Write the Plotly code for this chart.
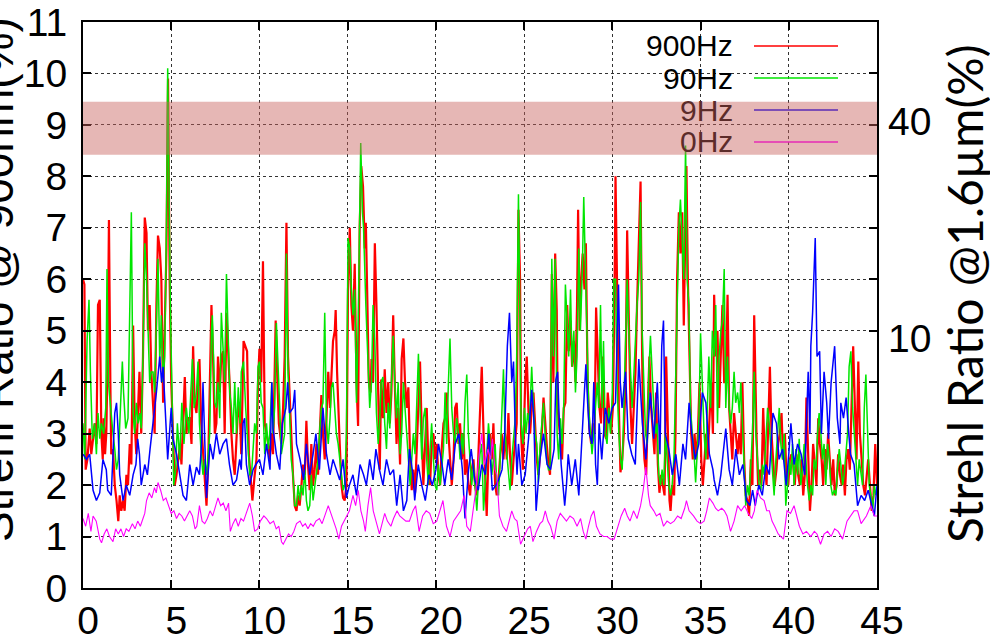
import plotly.graph_objects as go

# Strehl ratio time series (time in s, Strehl in %) for four loop rates
s900 = [(0.0,6.0),(0.08,5.9),(0.15,2.3),(0.25,2.5),(0.38,3.1),(0.47,2.6),(0.57,2.9),(0.66,3.2),(0.76,2.8),(0.85,5.5),(0.95,5.6),(1.04,3.0),(1.12,2.5),(1.17,3.3),(1.25,2.6),(1.32,3.0),(1.40,4.5),(1.47,7.15),(1.55,4.0),(1.6,2.6),(1.7,2.7),(1.8,2.0),(1.9,1.7),(2.0,1.3),(2.08,1.8),(2.17,1.5),(2.27,1.7),(2.36,1.5),(2.46,2.2),(2.55,2.0),(2.65,2.8),(2.74,2.4),(2.84,5.1),(2.93,3.2),(3.02,2.6),(3.1,3.5),(3.2,4.2),(3.3,3.0),(3.4,4.5),(3.5,7.2),(3.6,6.9),(3.68,5.0),(3.78,5.5),(3.87,4.2),(3.97,3.6),(4.06,3.0),(4.16,5.5),(4.25,6.85),(4.35,6.6),(4.44,6.0),(4.54,3.6),(4.63,5.0),(4.73,6.6),(4.82,9.9),(4.91,6.0),(5.0,4.0),(5.1,3.0),(5.2,2.0),(5.3,2.2),(5.4,2.5),(5.5,2.8),(5.58,2.4),(5.67,3.4),(5.77,4.1),(5.86,3.0),(5.95,3.3),(6.05,3.3),(6.15,2.8),(6.24,4.7),(6.33,3.6),(6.43,3.4),(6.52,4.0),(6.6,4.45),(6.7,3.2),(6.8,2.6),(6.9,2.0),(7.0,1.6),(7.1,2.5),(7.18,3.6),(7.28,5.5),(7.37,4.5),(7.47,3.0),(7.56,3.2),(7.65,4.5),(7.75,3.8),(7.84,4.5),(7.94,4.6),(8.03,3.0),(8.13,5.35),(8.22,4.7),(8.32,3.9),(8.41,3.0),(8.5,2.5),(8.6,2.2),(8.7,2.8),(8.8,3.6),(8.9,3.3),
        (8.97,2.6),(9.1,4.8),(9.22,4.7),(9.3,4.6),(9.4,2.6),(9.5,2.2),(9.6,1.7),(9.73,2.2),(9.83,2.5),(9.92,4.0),(10.0,4.65),(10.1,4.0),(10.2,6.35),(10.3,3.2),(10.4,3.0),(10.5,2.8),(10.58,2.5),(10.7,3.0),(10.77,2.6),(10.92,5.2),(11.02,4.0),(11.1,3.2),(11.24,2.8),(11.34,3.5),(11.43,4.5),(11.53,7.1),(11.62,4.5),(11.7,3.8),(11.8,3.0),(11.9,2.2),(12.0,1.6),(12.1,1.5),(12.19,1.8),(12.28,1.6),(12.38,2.0),(12.47,2.4),(12.57,2.2),(12.66,3.25),(12.75,2.4),(12.85,1.9),(12.94,2.8),(13.04,2.0),(13.13,2.3),(13.23,2.8),(13.32,2.2),(13.42,3.0),(13.51,3.75),(13.6,3.0),(13.7,2.5),(13.8,3.3),(13.9,4.2),(14.0,3.5),(14.08,4.3),(14.17,4.8),(14.27,5.0),(14.32,5.4),(14.4,4.2),(14.46,3.5),(14.55,2.8),(14.65,2.0),(14.74,1.75),(14.83,1.7),(14.93,2.0),(15.02,5.8),(15.12,7.0),(15.21,5.5),(15.3,5.0),(15.4,6.3),(15.5,4.0),(15.59,3.15),(15.68,7.0),(15.77,8.2),(15.87,7.8),(15.97,6.6),(16.03,7.1),(16.12,5.5),(16.2,4.0),(16.3,3.8),(16.35,4.45),(16.44,4.0),(16.54,6.7),(16.63,5.5),(16.73,3.5),(16.82,2.3),(16.9,4.05),(17.0,3.3),(17.1,4.25),(17.2,3.4),(17.3,4.0),(17.39,3.2),(17.48,3.8),(17.58,5.3),(17.67,4.0),(17.77,2.8),(17.86,3.5),
        (17.97,2.4),(18.06,4.45),(18.16,4.85),(18.25,4.0),(18.35,3.5),(18.44,3.9),(18.54,2.5),(18.63,1.9),(18.72,2.3),(18.82,1.85),(18.91,2.8),(19.01,3.7),(19.1,4.4),(19.2,3.0),(19.29,2.0),(19.39,2.8),(19.48,3.5),(19.57,2.5),(19.67,2.0),(19.76,2.8),(19.86,3.0),(19.95,2.5),(20.05,2.8),(20.14,2.2),(20.24,2.0),(20.33,2.7),(20.43,3.2),(20.52,3.3),(20.61,3.8),(20.71,3.0),(20.8,2.5),(20.9,2.0),(21.0,2.5),(21.09,3.5),(21.18,3.6),(21.28,2.8),(21.37,3.2),(21.47,2.5),(21.56,3.0),(21.65,2.2),(21.75,2.5),(21.84,2.0),(21.94,1.8),(22.03,2.3),(22.13,2.5),(22.22,2.0),(22.32,1.8),(22.4,2.5),(22.5,3.5),(22.6,4.3),(22.7,3.0),(22.79,2.0),(22.88,1.4),(22.98,2.6),(23.07,3.0),(23.17,2.5),(23.26,3.2),(23.36,2.0),(23.45,1.8),(23.55,2.1),(23.64,2.5),(23.73,3.0),(23.83,2.5),(23.92,3.0),(24.02,2.5),(24.11,3.4),(24.2,2.6),(24.3,2.0),(24.4,2.5),(24.5,3.0),(24.58,3.2),(24.68,7.35),(24.77,6.0),(24.83,3.0),(24.93,2.3),(25.06,4.0),(25.15,4.5),(25.25,3.4),(25.34,3.0),(25.43,3.5),(25.53,3.8),(25.62,3.2),(25.72,2.5),(25.81,2.2),(25.91,2.6),(26.0,3.0),(26.1,3.7),(26.19,3.2),(26.28,2.8),(26.38,2.4),(26.47,2.2),(26.57,6.1),(26.66,4.0),(26.76,6.5),
        (26.85,5.4),(26.9,3.5),(27.0,3.15),(27.15,2.5),(27.25,3.5),(27.34,3.6),(27.44,5.5),(27.53,4.6),(27.63,5.2),(27.72,4.3),(27.82,4.8),(27.91,4.0),(28.0,5.5),(28.06,7.35),(28.15,5.0),(28.23,6.0),(28.32,6.5),(28.42,5.8),(28.5,6.7),(28.6,4.0),(28.7,3.1),(28.8,2.8),(28.9,3.2),(28.99,3.0),(29.08,5.45),(29.18,4.5),(29.27,3.5),(29.36,3.2),(29.46,4.5),(29.55,3.0),(29.65,2.9),(29.74,3.8),(29.84,3.3),(29.93,3.0),(30.03,3.5),(30.12,5.5),(30.18,8.0),(30.27,5.5),(30.37,3.5),(30.46,2.25),(30.56,2.5),(30.65,3.0),(30.75,4.0),(30.84,6.95),(30.93,5.0),(31.03,3.5),(31.12,2.8),(31.2,3.5),(31.31,4.2),(31.4,5.5),(31.5,7.0),(31.6,7.9),(31.69,4.5),(31.75,3.0),(31.82,2.5),(31.92,2.2),(32.01,3.5),(32.1,4.5),(32.2,3.5),(32.3,3.0),(32.39,2.6),(32.48,3.8),(32.58,2.4),(32.67,1.85),(32.77,2.2),(32.86,2.0),(32.96,1.8),(33.05,4.5),(33.15,2.8),(33.24,1.7),(33.3,1.5),(33.39,2.0),(33.5,1.8),(33.58,3.0),(33.67,6.0),(33.77,7.3),(33.86,6.5),(33.96,7.3),(34.05,5.1),(34.15,7.5),(34.2,8.2),(34.28,6.0),(34.37,4.5),(34.47,3.0),(34.56,2.5),(34.66,3.0),(34.75,2.5),(34.85,3.0),(34.94,4.0),(35.04,2.5),(35.13,2.0),(35.22,2.5),(35.32,3.0),(35.4,2.5),(35.5,3.2),(35.6,4.0),(35.7,3.0),
        (35.77,5.7),(35.86,4.5),(35.96,5.0),(36.05,3.5),(36.15,4.5),(36.24,5.5),(36.34,4.0),(36.43,4.0),(36.53,5.7),(36.62,3.5),(36.71,3.0),(36.8,2.5),(36.9,3.4),(36.99,3.0),(37.1,2.6),(37.2,3.0),(37.28,2.6),(37.37,4.0),(37.47,2.5),(37.56,1.8),(37.66,1.7),(37.75,1.4),(37.85,2.5),(37.94,2.0),(38.04,5.3),(38.17,3.0),(38.26,2.0),(38.36,2.3),(38.45,2.0),(38.55,3.5),(38.64,2.5),(38.74,2.0),(38.83,3.0),(38.93,4.3),(39.02,3.0),(39.11,2.5),(39.2,2.0),(39.3,2.3),(39.4,2.8),(39.49,3.0),(39.59,3.4),(39.68,2.5),(39.78,3.0),(39.87,2.2),(39.97,2.0),(40.06,2.5),(40.15,2.6),(40.25,2.4),(40.34,2.0),(40.44,2.6),(40.53,2.2),(40.63,2.0),(40.72,2.5),(40.82,1.8),(40.91,2.2),(41.0,3.7),(41.1,2.5),(41.2,1.5),(41.29,2.0),(41.38,2.8),(41.48,2.4),(41.57,2.0),(41.67,3.3),(41.76,2.8),(41.86,2.5),(41.95,2.0),(42.05,2.7),(42.14,2.3),(42.23,3.0),(42.33,2.5),(42.42,2.0),(42.52,2.5),(42.61,1.8),(42.71,2.0),(42.8,2.6),(42.9,2.2),(43.0,2.0),(43.08,2.4),(43.18,1.8),(43.27,2.5),(43.37,2.7),(43.46,2.3),(43.56,3.5),(43.65,4.7),(43.75,3.5),(43.84,2.5),(43.94,4.4),(44.03,3.0),(44.13,2.5),(44.22,2.0),(44.32,1.8),(44.4,2.2),(44.5,2.5),(44.6,2.0),(44.7,1.5),(44.8,1.8),(44.9,2.8),(45.0,2.0)]

s90 = [(0.0,3.2),(0.1,2.5),(0.23,4.8),(0.34,5.6),(0.42,4.2),(0.53,2.9),(0.66,3.2),(0.76,2.6),(0.85,3.4),(0.95,2.9),(1.04,3.2),(1.17,3.0),(1.29,3.5),(1.36,6.2),(1.44,4.0),(1.55,3.5),(1.7,3.0),(1.8,2.7),(1.9,2.3),(2.0,2.5),(2.12,3.7),(2.23,4.4),(2.3,3.8),(2.42,3.1),(2.55,3.3),(2.65,6.0),(2.74,7.3),(2.84,3.4),(2.93,3.0),(3.02,3.6),(3.12,3.2),(3.22,3.4),(3.3,3.1),(3.4,4.5),(3.5,6.7),(3.6,6.0),(3.68,5.0),(3.78,4.0),(3.87,4.2),(3.97,4.2),(4.06,3.8),(4.16,5.0),(4.25,6.4),(4.35,4.4),(4.44,5.3),(4.54,4.0),(4.63,4.5),(4.73,7.0),(4.8,10.1),(4.95,5.5),(5.07,3.5),(5.14,2.0),(5.25,2.3),(5.35,3.2),(5.48,2.5),(5.6,3.6),(5.72,2.8),(5.86,3.5),(6.0,3.0),(6.09,3.8),(6.2,4.45),(6.3,3.5),(6.43,3.8),(6.52,4.4),(6.6,3.2),(6.7,2.6),(6.8,2.2),(6.9,2.5),(7.0,2.2),(7.1,2.6),(7.18,3.0),(7.28,5.0),(7.33,5.3),(7.47,3.6),(7.56,3.5),(7.65,4.0),(7.75,3.3),(7.84,5.35),(7.94,4.5),(8.03,4.0),(8.13,6.1),(8.22,5.0),(8.32,3.8),(8.41,3.5),(8.5,3.0),(8.6,4.0),(8.7,3.0),(8.8,3.9),(8.9,3.2),
       (8.97,4.2),(9.1,4.4),(9.22,3.5),(9.35,2.6),(9.45,2.2),(9.55,2.2),(9.64,2.7),(9.73,3.2),(9.83,3.0),(9.92,4.3),(10.0,4.4),(10.1,3.6),(10.2,3.5),(10.3,2.6),(10.4,3.2),(10.5,2.7),(10.58,3.0),(10.7,4.0),(10.77,3.0),(10.86,3.5),(10.96,5.15),(11.05,4.5),(11.15,3.5),(11.24,2.6),(11.34,2.8),(11.43,3.0),(11.53,6.5),(11.62,4.2),(11.7,3.5),(11.8,2.5),(11.9,2.2),(12.0,1.6),(12.1,1.6),(12.19,2.0),(12.28,1.7),(12.38,2.0),(12.47,1.8),(12.57,2.3),(12.66,1.7),(12.75,1.5),(12.85,1.6),(12.94,2.2),(13.04,1.7),(13.13,2.0),(13.23,2.2),(13.32,2.5),(13.42,3.1),(13.51,3.5),(13.6,3.6),(13.7,5.35),(13.8,3.2),(13.9,2.8),(14.0,3.3),(14.08,3.9),(14.17,4.0),(14.27,3.5),(14.36,3.0),(14.46,2.8),(14.55,2.5),(14.65,2.3),(14.74,1.9),(14.83,2.0),(14.93,3.0),(15.02,6.8),(15.12,6.6),(15.21,5.8),(15.3,5.3),(15.4,5.8),(15.5,3.6),(15.59,5.0),(15.68,8.0),(15.74,8.65),(15.84,7.3),(15.9,7.0),(16.03,5.5),(16.12,4.5),(16.25,3.5),(16.35,4.0),(16.44,5.5),(16.54,4.8),(16.63,3.4),(16.73,2.8),(16.82,3.3),(16.9,4.0),(17.0,4.1),(17.1,3.2),(17.2,2.7),(17.3,3.6),(17.39,3.1),(17.48,4.0),(17.58,4.9),(17.67,4.0),(17.77,3.3),(17.86,4.0),
       (17.97,2.6),(18.06,3.0),(18.16,4.0),(18.25,3.5),(18.35,3.0),(18.44,2.5),(18.54,2.0),(18.63,2.5),(18.72,3.0),(18.82,2.6),(18.91,3.5),(19.01,4.55),(19.1,3.5),(19.2,2.5),(19.29,3.3),(19.39,3.5),(19.48,2.5),(19.57,2.0),(19.67,2.7),(19.76,3.2),(19.86,2.5),(19.95,2.0),(20.05,1.9),(20.14,2.4),(20.24,2.0),(20.33,2.3),(20.43,2.7),(20.52,3.8),(20.61,2.8),(20.71,4.0),(20.8,4.85),(20.9,3.5),(21.0,3.0),(21.09,2.8),(21.18,3.3),(21.28,3.0),(21.37,2.5),(21.47,3.0),(21.56,2.6),(21.65,3.6),(21.75,4.15),(21.84,3.0),(21.94,2.5),(22.03,2.0),(22.13,2.4),(22.22,2.0),(22.32,1.5),(22.4,2.0),(22.5,2.6),(22.6,2.8),(22.7,1.5),(22.79,2.0),(22.88,2.6),(22.98,3.2),(23.07,2.8),(23.17,2.2),(23.26,2.5),(23.36,2.8),(23.45,2.0),(23.55,1.8),(23.64,2.5),(23.73,3.5),(23.83,4.25),(23.92,3.0),(24.02,2.6),(24.11,2.1),(24.2,1.9),(24.3,2.5),(24.4,3.0),(24.5,3.3),(24.58,4.5),(24.68,7.65),(24.77,5.0),(24.83,3.2),(24.93,2.8),(25.02,3.5),(25.11,3.0),(25.2,3.4),(25.3,3.2),(25.43,4.3),(25.53,3.5),(25.62,3.0),(25.72,2.8),(25.81,2.05),(25.91,2.8),(26.0,3.2),(26.1,3.6),(26.19,3.0),(26.28,2.5),(26.38,2.3),(26.47,2.3),(26.57,6.4),(26.66,4.5),(26.76,6.4),
       (26.87,3.0),(26.96,2.5),(27.06,3.3),(27.15,2.8),(27.25,3.6),(27.34,5.9),(27.44,5.0),(27.53,4.5),(27.63,5.8),(27.72,4.3),(27.82,5.0),(27.91,3.8),(28.0,4.5),(28.1,6.6),(28.19,5.0),(28.3,6.2),(28.38,7.6),(28.48,6.0),(28.57,5.0),(28.66,3.5),(28.76,3.0),(28.85,2.6),(28.95,3.0),(29.04,3.5),(29.14,4.0),(29.23,3.5),(29.33,5.5),(29.42,3.5),(29.5,4.8),(29.6,3.0),(29.7,2.8),(29.8,3.5),(29.9,3.0),(30.0,3.8),(30.08,6.0),(30.18,6.0),(30.27,4.0),(30.37,3.0),(30.46,2.5),(30.56,2.3),(30.65,3.5),(30.75,4.5),(30.84,6.0),(30.93,5.0),(31.03,4.0),(31.12,3.5),(31.2,4.0),(31.31,5.0),(31.4,5.5),(31.5,6.0),(31.6,7.5),(31.69,5.0),(31.8,4.0),(31.88,3.0),(31.98,2.8),(32.07,4.2),(32.16,4.9),(32.26,4.0),(32.35,3.5),(32.45,3.0),(32.54,3.2),(32.63,2.2),(32.73,2.0),(32.82,2.3),(32.92,2.0),(33.01,3.0),(33.1,2.5),(33.2,2.0),(33.3,1.8),(33.39,2.0),(33.5,2.6),(33.58,4.0),(33.67,5.0),(33.77,7.0),(33.86,7.55),(33.96,6.5),(34.05,6.0),(34.15,8.6),(34.24,6.0),(34.34,5.5),(34.43,3.5),(34.53,3.0),(34.62,2.7),(34.72,2.05),(34.81,2.8),(34.9,3.2),(35.0,4.95),(35.1,4.0),(35.2,3.0),(35.3,2.5),(35.38,3.5),(35.47,4.5),(35.57,3.5),
       (35.67,5.0),(35.77,4.5),(35.86,5.5),(35.96,3.2),(36.05,4.5),(36.15,5.0),(36.24,5.2),(36.34,6.2),(36.43,3.5),(36.53,4.5),(36.62,3.5),(36.71,3.2),(36.8,3.5),(36.9,4.2),(36.99,3.6),(37.1,3.8),(37.2,3.4),(37.28,4.0),(37.37,3.3),(37.47,2.2),(37.56,1.6),(37.66,2.0),(37.75,1.8),(37.85,2.4),(37.94,3.0),(38.04,4.2),(38.13,3.0),(38.23,2.5),(38.32,2.0),(38.42,1.9),(38.51,2.4),(38.6,2.2),(38.7,2.8),(38.8,3.5),(38.89,3.2),(38.98,2.7),(39.08,2.2),(39.17,1.8),(39.27,2.5),(39.36,3.0),(39.46,3.5),(39.55,2.8),(39.64,2.5),(39.74,3.0),(39.83,1.6),(39.93,2.0),(40.02,2.5),(40.12,2.2),(40.21,2.8),(40.3,2.0),(40.4,2.7),(40.5,2.2),(40.59,2.9),(40.68,2.0),(40.78,2.3),(40.87,2.8),(40.97,2.5),(41.06,2.0),(41.16,1.7),(41.25,2.0),(41.35,1.8),(41.44,2.5),(41.54,2.3),(41.63,3.0),(41.72,3.4),(41.82,3.0),(41.91,2.5),(42.0,2.8),(42.1,2.0),(42.2,2.8),(42.3,2.5),(42.38,2.0),(42.48,1.8),(42.58,1.9),(42.67,1.8),(42.76,2.3),(42.86,2.7),(42.95,2.4),(43.05,2.0),(43.14,2.2),(43.24,2.6),(43.33,3.0),(43.42,4.3),(43.52,4.6),(43.62,3.5),(43.71,3.0),(43.8,2.5),(43.9,2.0),(43.99,2.5),(44.09,2.2),(44.18,2.0),(44.28,3.5),(44.37,4.15),(44.47,3.0),(44.56,2.0),(44.65,1.8),(44.75,1.5),(44.85,2.0),(44.94,1.8)]

s9 = [(0.0,2.6),(0.2,2.5),(0.38,2.6),(0.57,1.9),(0.76,1.7),(0.95,1.85),(1.13,2.5),(1.32,2.3),(1.4,1.9),(1.6,1.8),(1.8,3.4),(1.9,3.6),(2.0,3.0),(2.08,2.2),(2.27,1.7),(2.45,2.0),(2.65,1.8),(2.84,2.2),(3.0,2.4),(3.1,2.9),(3.2,2.6),(3.3,2.0),(3.5,2.4),(3.65,2.2),(3.8,2.7),(4.0,3.3),(4.16,3.8),(4.35,4.5),(4.45,4.0),(4.54,4.3),(4.63,3.6),(4.8,2.5),(5.0,3.5),(5.1,2.9),(5.3,2.6),(5.5,2.2),(5.67,1.8),(5.86,1.7),(6.05,2.4),(6.24,2.0),(6.43,2.35),(6.6,2.2),(6.72,2.8),(6.8,4.0),(6.9,2.6),(7.0,1.75),(7.2,2.8),(7.37,2.5),(7.56,3.0),(7.75,2.6),(7.94,2.8),(8.13,2.9),(8.3,2.4),(8.5,2.0),(8.7,2.1),(8.88,2.5),(8.97,2.3),(9.07,3.2),(9.16,3.3),(9.26,2.4),(9.45,2.0),(9.64,2.3),(9.8,2.4),(10.0,2.5),(10.2,2.2),(10.4,2.8),(10.6,2.3),(10.7,4.0),(10.77,3.1),(10.96,2.6),(11.15,2.3),(11.3,3.2),(11.5,3.5),(11.6,4.0),(11.7,3.4),(11.9,3.5),(12.0,3.85),(12.1,2.8),(12.3,2.5),(12.5,2.1),(12.66,2.8),(12.85,2.2),(13.04,2.6),(13.2,3.0),(13.4,2.3),(13.6,3.5),(13.8,2.6),(14.0,2.2),(14.17,2.5),(14.36,2.3),(14.55,2.1),(14.74,2.5),(14.93,1.75),(15.1,2.0),(15.3,2.2),(15.5,1.8),(15.7,2.4),(15.9,2.2),(16.06,2.0),(16.25,2.5),(16.44,2.1),(16.6,2.7),(16.8,2.3),(17.0,2.0),(17.2,2.5),(17.4,2.2),(17.6,2.3),
      (17.78,1.6),(17.97,2.2),(18.16,1.5),(18.35,1.7),(18.5,2.7),(18.7,2.2),(18.8,1.7),(19.0,2.4),(19.2,2.0),(19.4,1.7),(19.6,2.2),(19.8,2.0),(20.0,2.3),(20.15,2.8),(20.35,2.4),(20.5,2.0),(20.7,2.5),(20.9,2.1),(21.1,2.8),(21.3,3.0),(21.5,2.3),(21.65,1.35),(21.85,2.3),(22.0,2.7),(22.2,2.1),(22.4,1.9),(22.6,2.4),(22.8,2.2),(23.0,3.0),(23.2,1.9),(23.4,2.0),(23.55,2.1),(23.75,2.3),(23.9,3.0),(24.05,4.7),(24.17,5.35),(24.3,4.0),(24.4,4.4),(24.5,3.0),(24.6,2.2),(24.68,2.8),(24.87,2.0),(25.06,2.2),(25.25,2.9),(25.43,3.85),(25.55,3.3),(25.68,1.5),(25.9,2.5),(26.1,3.0),(26.3,2.4),(26.5,2.3),(26.7,2.7),(26.8,4.05),(26.9,4.2),(27.0,3.2),(27.1,2.4),(27.3,1.6),(27.4,2.0),(27.5,2.6),(27.7,2.0),(27.9,2.5),(28.1,1.8),(28.2,2.4),(28.3,3.1),(28.5,4.35),(28.6,3.6),(28.7,3.0),(28.85,2.8),(28.95,4.0),(29.05,2.4),(29.15,2.0),(29.25,3.2),(29.4,2.5),(29.6,3.5),(29.8,3.2),(30.0,3.5),(30.18,3.6),(30.35,5.9),(30.45,4.0),(30.55,3.5),(30.75,4.2),(30.9,2.9),(31.1,2.6),(31.3,2.4),(31.5,4.45),(31.7,3.2),(31.9,2.5),(32.0,3.0),(32.15,3.8),(32.35,2.9),(32.55,4.0),(32.7,2.6),(32.8,4.7),(32.9,5.2),(33.0,3.0),(33.2,2.7),(33.4,2.2),(33.6,2.6),(33.8,2.0),(34.0,2.8),(34.15,2.5),(34.35,3.6),(34.5,3.0),(34.7,2.5),(34.9,2.8),(35.1,3.8),(35.3,3.6),(35.5,2.6),(35.7,2.3),
      (35.77,2.1),(35.96,1.8),(36.15,2.2),(36.34,2.8),(36.43,3.1),(36.62,2.3),(36.8,2.0),(37.0,2.7),(37.2,2.2),(37.4,2.4),(37.6,1.7),(37.8,1.6),(37.95,1.9),(38.1,1.6),(38.3,2.0),(38.5,1.8),(38.7,2.4),(38.9,2.2),(39.1,3.4),(39.3,3.2),(39.45,2.5),(39.65,2.7),(39.85,2.0),(40.0,2.6),(40.12,3.2),(40.3,2.4),(40.5,2.8),(40.7,2.6),(40.9,2.2),(41.1,4.2),(41.2,3.0),(41.25,4.7),(41.35,5.35),(41.5,6.8),(41.6,4.5),(41.75,4.6),(41.85,3.0),(42.0,4.2),(42.15,3.6),(42.25,2.9),(42.4,4.0),(42.6,4.7),(42.75,3.3),(42.9,2.8),(42.95,3.6),(43.1,3.3),(43.25,3.7),(43.4,3.0),(43.5,2.6),(43.7,2.4),(43.9,1.6),(44.1,1.8),(44.3,1.7),(44.5,1.9),(44.65,1.7),(44.85,1.4),(45.0,2.0)]

s0 = [(0.0,1.35),(0.15,1.2),(0.3,1.45),(0.45,1.1),(0.57,1.4),(0.75,1.3),(0.95,0.95),(1.05,0.88),(1.2,1.05),(1.35,1.15),(1.5,1.0),(1.7,0.9),(1.85,1.15),(2.0,1.05),(2.15,1.15),(2.3,1.0),(2.45,1.15),(2.6,1.1),(2.8,1.25),(2.95,1.15),(3.1,1.3),(3.25,1.2),(3.4,1.35),(3.5,1.45),(3.6,1.7),(3.75,1.85),(3.9,1.75),(4.05,1.95),(4.15,1.85),(4.25,2.05),(4.4,1.9),(4.55,1.7),(4.7,1.75),(4.85,1.6),(5.0,1.45),(5.15,1.5),(5.3,1.35),(5.45,1.45),(5.6,1.4),(5.75,1.3),(5.9,1.4),(6.05,1.5),(6.2,1.4),(6.35,1.15),(6.45,1.2),(6.6,1.6),(6.75,1.3),(6.9,1.25),(7.05,1.35),(7.2,1.5),(7.35,1.4),(7.5,1.6),(7.65,1.75),(7.8,1.6),(7.95,1.65),(8.1,1.5),(8.25,1.65),(8.35,1.1),(8.5,1.25),(8.65,1.35),(8.8,1.2),(8.95,1.35),(9.1,1.3),(9.25,1.45),(9.45,1.65),(9.6,1.4),(9.73,1.1),(9.9,1.15),(10.05,1.3),(10.25,1.4),(10.4,1.35),(10.6,1.25),(10.8,1.3),(10.95,1.15),(11.1,1.2),(11.25,0.9),(11.35,0.85),(11.5,0.95),(11.65,1.05),(11.8,1.0),(11.95,1.1),(12.1,1.25),(12.3,1.3),(12.45,1.2),(12.6,1.25),(12.75,1.15),(12.9,1.25),(13.05,1.2),(13.2,1.3),(13.4,1.35),(13.55,1.25),(13.75,1.45),(13.9,1.6),(14.05,1.45),(14.2,1.3),(14.35,1.15),(14.5,0.95),(14.65,1.2),(14.8,1.3),(14.95,1.4),(15.1,1.5),(15.3,1.8),(15.45,1.6),(15.6,1.9),(15.75,1.5),(15.9,1.3),(16.0,1.1),(16.15,1.6),(16.3,1.95),(16.45,1.5),(16.6,1.3),(16.8,1.05),(16.95,1.25),(17.1,1.45),(17.25,1.3),(17.45,1.2),(17.6,1.35),(17.8,1.5),(17.95,1.4),
      (18.1,1.35),(18.3,1.3),(18.5,1.3),(18.7,1.5),(18.85,1.6),(19.05,1.1),(19.25,1.4),(19.45,1.5),(19.65,1.45),(19.85,1.25),(20.05,1.3),(20.25,1.55),(20.4,1.7),(20.6,1.2),(20.8,1.0),(21.0,1.3),(21.2,1.4),(21.4,1.5),(21.6,1.8),(21.75,1.2),(21.95,1.1),(22.1,1.5),(22.3,2.0),(22.45,2.6),(22.6,3.0),(22.75,2.4),(22.95,2.7),(23.1,2.5),(23.2,2.9),(23.35,2.3),(23.45,2.2),(23.6,1.4),(23.8,1.2),(24.0,1.1),(24.15,1.3),(24.3,1.5),(24.45,1.35),(24.6,1.3),(24.8,0.85),(25.0,1.0),(25.2,1.15),(25.35,1.2),(25.5,0.9),(25.7,1.1),(25.9,1.25),(26.05,1.3),(26.2,1.5),(26.35,1.3),(26.5,1.2),(26.7,0.95),(26.87,1.3),(27.05,1.45),(27.25,1.35),(27.4,1.3),(27.6,1.4),(27.8,1.35),(28.0,1.2),(28.2,1.35),(28.35,1.1),(28.5,0.95),(28.65,1.2),(28.8,1.4),(28.95,1.5),(29.1,1.2),(29.3,1.05),(29.5,1.0),(29.7,1.0),(29.9,0.95),(30.1,0.95),(30.3,1.2),(30.5,1.4),(30.7,1.55),(30.85,1.4),(31.0,1.3),(31.2,1.5),(31.4,1.35),(31.6,1.6),(31.75,1.9),(31.9,2.35),(32.05,1.8),(32.15,1.6),(32.35,1.5),(32.5,1.4),(32.7,1.45),(32.9,1.2),(33.1,1.3),(33.3,1.25),(33.5,1.3),(33.7,1.4),(33.9,1.35),(34.1,1.55),(34.2,1.7),(34.35,1.5),(34.6,1.4),(34.8,1.3),(35.0,1.25),(35.2,1.3),(35.35,1.5),(35.5,1.75),(35.7,1.65),(35.85,1.55),
      (36.0,1.5),(36.2,1.55),(36.35,1.5),(36.5,1.4),(36.7,1.1),(36.9,1.3),(37.1,1.6),(37.3,1.5),(37.5,1.6),(37.7,1.45),(37.9,1.35),(38.05,1.5),(38.2,1.9),(38.4,1.75),(38.6,1.7),(38.75,1.5),(38.9,1.5),(39.05,1.3),(39.2,1.2),(39.4,1.05),(39.55,1.0),(39.7,0.95),(39.9,1.5),(40.1,1.45),(40.3,1.6),(40.45,1.4),(40.6,1.2),(40.8,1.05),(41.0,1.1),(41.25,1.0),(41.45,1.1),(41.6,1.05),(41.8,0.85),(42.0,1.05),(42.2,1.1),(42.4,1.0),(42.6,1.15),(42.8,1.1),(43.05,0.95),(43.3,1.3),(43.5,1.4),(43.7,1.5),(43.9,1.5),(44.1,1.25),(44.4,1.4),(44.65,1.6),(44.85,1.4),(45.0,1.4)]

series_names = ["900Hz", "90Hz", "9Hz", "0Hz"]
series_data = [s900, s90, s9, s0]
series_colors = ["#ff0000", "#00e600", "#0000ff", "#ff00ff"]
series_widths = [2.2, 1.5, 1.5, 1.1]

x_ticks = [0, 5, 10, 15, 20, 25, 30, 35, 40, 45]
y_ticks = list(range(0, 12))
# right-hand scale: Strehl at 1.6 um corresponding to left-axis positions
y2_tick_pos = [9.06, 4.86]
y2_tick_text = ["40", "10"]
band_range = (8.42, 9.45)

FONT = "Liberation Sans, Arial, sans-serif"

# plot-area geometry in pixels
L, R, T, B = 83, 877, 22, 588
PW, PH = R - L, B - T


def px(xp):
    return (xp - L) / PW


def py(yp):
    return (B - yp) / PH


fig = go.Figure()
for name, data, color, w in zip(series_names, series_data, series_colors, series_widths):
    fig.add_trace(go.Scatter(
        x=[p[0] for p in data], y=[p[1] for p in data],
        mode="lines", name=name, showlegend=False,
        line=dict(color=color, width=w),
    ))
# empty trace so the secondary axis is rendered
fig.add_trace(go.Scatter(x=[], y=[], yaxis="y2", showlegend=False))

axis_common = dict(
    showline=True, linecolor="black", linewidth=2, mirror="ticks",
    ticks="inside", ticklen=8, tickwidth=1.5, tickcolor="black",
    showgrid=True, gridcolor="#333333", gridwidth=1, griddash="dot",
    zeroline=False, automargin=False,
    tickfont=dict(family=FONT, size=39, color="black"),
)

fig.update_layout(
    width=990, height=634,
    margin=dict(l=L, r=990 - R, t=T, b=634 - B),
    paper_bgcolor="white", plot_bgcolor="white",
    xaxis=dict(range=[0, 45], tickvals=x_ticks, ticklabelstandoff=-3,
               ticklabelshift=5, **axis_common),
    yaxis=dict(range=[0, 11], tickvals=y_ticks, ticklabelstandoff=6, **axis_common),
    yaxis2=dict(range=[0, 11], overlaying="y", side="right", tickvals=y2_tick_pos,
                ticktext=y2_tick_text, showgrid=False, showline=False, ticks="",
                zeroline=False, automargin=False, ticklabelstandoff=10,
                tickfont=dict(family=FONT, size=39, color="black")),
)

shapes = []
# opaque key box (above grid, below data)
shapes.append(dict(type="rect", xref="paper", yref="paper", layer="between",
                   x0=px(638), x1=px(858), y0=py(157), y1=py(30),
                   fillcolor="white", line=dict(width=0)))
# key samples
key_y = [46, 78, 110, 142]
key_text_col = ["black", "black", "rgb(92,44,42)", "rgb(92,44,42)"]
annotations = []
for name, color, ky, tc in zip(series_names, series_colors, key_y, key_text_col):
    shapes.append(dict(type="line", xref="paper", yref="paper", layer="above",
                       x0=px(754), x1=px(838), y0=py(ky), y1=py(ky),
                       line=dict(color=color, width=1.5)))
    annotations.append(dict(xref="paper", yref="paper", x=px(735), y=py(ky),
                            text=name, showarrow=False, xanchor="right", yanchor="middle",
                            font=dict(family=FONT, size=30, color=tc)))
# translucent band across the plot
shapes.append(dict(type="rect", xref="paper", yref="y", layer="above",
                   x0=0, x1=1, y0=band_range[0], y1=band_range[1],
                   fillcolor="rgba(200,96,91,0.45)", line=dict(width=0)))

annotations.append(dict(xref="paper", yref="paper", x=px(-3), y=py(280),
                        text="Strehl Ratio @ 900nm(%)", textangle=-90, showarrow=False,
                        xanchor="center", yanchor="middle",
                        font=dict(family=FONT, size=46, color="black")))
annotations.append(dict(xref="paper", yref="paper", x=px(964), y=py(294),
                        text="Strehl Ratio @1.6µm(%)", textangle=-90, showarrow=False,
                        xanchor="center", yanchor="middle",
                        font=dict(family="Lato, sans-serif", size=48, color="black")))

fig.update_layout(shapes=shapes, annotations=annotations)
fig.write_html("out.html")
